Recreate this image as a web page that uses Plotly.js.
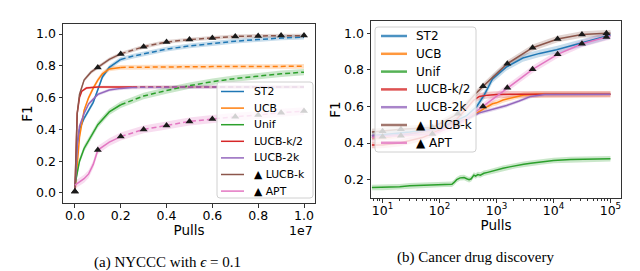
<!DOCTYPE html>
<html><head><meta charset="utf-8">
<script src="https://cdn.plot.ly/plotly-3.0.1.min.js"></script>
<style>html,body{margin:0;padding:0;background:#fff}#chart{width:640px;height:271px}</style>
</head><body><div id="chart"></div>
<script>
const seriesNames = ['ST2','UCB','Unif','LUCB-k/2','LUCB-2k','▲ LUCB-k','▲ APT'];
const colors = ['#1f77b4','#ff7f0e','#2ca02c','#d62728','#9467bd','#8c564b','#e377c2'];

// ---- Panel (a): NYCCC, x = pulls ----
const aST2_x = [0,1e5,2e5,4e5,6e5,8e5,1e6,1.2e6,1.5e6,2e6,2.5e6,3e6,4e6,5e6,6e6,7e6,8e6,9e6,1e7];
const aST2_y = [0.0,0.3,0.4,0.47,0.52,0.57,0.65,0.73,0.79,0.84,0.86,0.875,0.905,0.925,0.94,0.955,0.965,0.975,0.98];
const aUCB_x = [0,1e5,2e5,4e5,6e5,8e5,1e6,1.2e6,1.5e6,2e6,3e6,4e6,5e6,6e6,7e6,8e6,9e6,1e7];
const aUCB_y = [0.0,0.2,0.35,0.52,0.6,0.66,0.71,0.75,0.78,0.79,0.792,0.793,0.794,0.795,0.795,0.796,0.796,0.797];
const aUnif_x = [0,1e5,2e5,4e5,6e5,8e5,1e6,1.5e6,2e6,3e6,4e6,5e6,6e6,7e6,8e6,9e6,1e7];
const aUnif_y = [0.05,0.12,0.2,0.28,0.33,0.38,0.43,0.51,0.555,0.61,0.645,0.675,0.7,0.72,0.735,0.75,0.76];
const aLk2_x = [0,5e4,1e5,2e5,3e5,5e5,8e5,1e6,2e6,2.5e6,4e6,6e6,8e6,1e7];
const aLk2_y = [0.0,0.3,0.5,0.6,0.64,0.66,0.667,0.667,0.667,0.667,0.667,0.667,0.667,0.667];
const aL2k_x = [0,1e5,2e5,4e5,6e5,1e6,1.5e6,2e6,2.5e6,3e6,5e6,7e6,1e7];
const aL2k_y = [0.0,0.3,0.42,0.5,0.56,0.62,0.648,0.658,0.663,0.665,0.667,0.667,0.667];
const aLk_x = [0,5e4,1e5,2e5,4e5,7e5,1e6,1.5e6,2e6,3e6,4e6,5e6,6e6,7e6,8e6,9e6,1e7];
const aLk_y = [0.01,0.3,0.5,0.62,0.71,0.76,0.79,0.84,0.875,0.92,0.95,0.965,0.975,0.985,0.988,0.99,0.99];
const aAPT_x = [0,2e5,4e5,6e5,8e5,1e6,1.5e6,2e6,3e6,4e6,5e6,6e6,7e6,8e6,9e6,1e7];
const aAPT_y = [0.05,0.07,0.09,0.12,0.18,0.27,0.32,0.355,0.4,0.425,0.45,0.465,0.48,0.49,0.505,0.515];
const aMk_x = [0,1e6,2e6,3e6,4e6,5e6,6e6,7e6,8e6,9e6,1e7];
const aLkMk_y = [0.01,0.79,0.875,0.92,0.95,0.965,0.975,0.985,0.988,0.99,0.99];
const aAPTMk_y = [0.01,0.27,0.355,0.4,0.425,0.45,0.465,0.48,0.49,0.505,0.515];
const aBand = [0.015,0.015,0.02,0.008,0.01,0.012,0.025];
const aSplit = [2e6,2e6,2e6,2.5e6,2.5e6,2e6,2e6];
const aTickVals = [0,2e6,4e6,6e6,8e6,1e7];
const aTickText = ['0.0','0.2','0.4','0.6','0.8','1.0'];

// ---- Panel (b): Cancer drug discovery, x = pulls (log) ----
const bST2_x = [6.5,10,30,100,300,450,600,850,1480,2900,5700,11300,29000,60000,1e5];
const bST2_y = [0.44,0.445,0.46,0.48,0.55,0.6,0.66,0.75,0.815,0.865,0.89,0.91,0.943,0.97,0.99];
const bUCB_x = [6.5,10,30,100,300,500,700,850,1000,1300,1700,2200,3000,5000,1e5];
const bUCB_y = [0.43,0.43,0.45,0.48,0.53,0.575,0.6,0.615,0.62,0.635,0.645,0.655,0.663,0.667,0.667];
const bUnif_x = [6.5,10,15,20,30,50,80,120,165,180,200,230,270,300,330,360,400,430,470,520,600,700,800,1000,1300,1700,2200,3000,4000,6000,10000,20000,50000,1e5];
const bUnif_y = [0.158,0.158,0.16,0.162,0.167,0.17,0.172,0.175,0.175,0.185,0.2,0.21,0.212,0.205,0.2,0.205,0.225,0.22,0.228,0.225,0.235,0.24,0.245,0.255,0.262,0.27,0.278,0.285,0.29,0.297,0.305,0.31,0.312,0.315];
const bLk2_x = [6.5,10,20,50,100,200,300,400,500,700,1000,2000,1e5];
const bLk2_y = [0.39,0.39,0.4,0.43,0.47,0.53,0.59,0.635,0.655,0.662,0.665,0.667,0.667];
const bL2k_x = [6.5,10,30,100,300,500,1000,1500,2500,4000,7000,1e5];
const bL2k_y = [0.44,0.44,0.45,0.48,0.53,0.565,0.59,0.605,0.63,0.655,0.665,0.667];
const bLk_x = [6.5,10,21,75,210,400,580,1550,4300,11800,31600,85000,1e5];
const bLk_y = [0.46,0.465,0.475,0.485,0.56,0.66,0.71,0.834,0.921,0.969,0.993,1.0,1.0];
const bAPT_x = [6.5,10,21,75,210,580,1550,4300,11800,31600,85000,1e5];
const bAPT_y = [0.43,0.435,0.44,0.45,0.5,0.6,0.702,0.803,0.885,0.943,0.98,0.985];
const bMk_x = [10,21,75,210,580,1550,4300,11800,31600,85000];
const bLkMk_y = [0.465,0.475,0.485,0.56,0.71,0.834,0.921,0.969,0.993,1.0];
const bAPTMk_y = [0.435,0.44,0.45,0.5,0.6,0.702,0.803,0.885,0.943,0.98];
const bBand = [0.02,0.015,0.015,0.018,0.01,0.018,0.02];
const bTickVals = [10,100,1000,10000,100000];
const bTickText = ['10<sup>1</sup>','10<sup>2</sup>','10<sup>3</sup>','10<sup>4</sup>','10<sup>5</sup>'];

const aX = [aST2_x,aUCB_x,aUnif_x,aLk2_x,aL2k_x,aLk_x,aAPT_x];
const aY = [aST2_y,aUCB_y,aUnif_y,aLk2_y,aL2k_y,aLk_y,aAPT_y];
const bX = [bST2_x,bUCB_x,bUnif_x,bLk2_x,bL2k_x,bLk_x,bAPT_x];
const bY = [bST2_y,bUCB_y,bUnif_y,bLk2_y,bL2k_y,bLk_y,bAPT_y];

function rgba(hex,a){const n=parseInt(hex.slice(1),16);return `rgba(${n>>16},${(n>>8)&255},${n&255},${a})`;}

const bands=[], lines=[], marks=[];
function addPanel(X,Y,band,split,xa,ya){
  for(let i=0;i<X.length;i++){
    const xs=X[i], ys=Y[i], c=colors[i];
    const up=ys.map(v=>v+band[i]), lo=ys.map(v=>v-band[i]);
    bands.push({x:xs.concat(xs.slice().reverse()), y:up.concat(lo.slice().reverse()),
      type:'scatter', mode:'lines', fill:'toself', fillcolor:rgba(c,0.25), line:{width:0},
      hoverinfo:'skip', showlegend:false, xaxis:xa, yaxis:ya});
    const s = split ? split[i] : Infinity;
    const sx=[], sy=[], dx=[], dy=[];
    xs.forEach((v,k)=>{ if(v<=s){sx.push(v);sy.push(ys[k]);} if(v>=s){dx.push(v);dy.push(ys[k]);} });
    lines.push({x:sx,y:sy,type:'scatter',mode:'lines',name:seriesNames[i],line:{color:c,width:1.5},
      xaxis:xa,yaxis:ya,showlegend:false});
    if(dx.length>1) lines.push({x:dx,y:dy,type:'scatter',mode:'lines',line:{color:c,width:1.5,dash:'5px,3px'},
      xaxis:xa,yaxis:ya,showlegend:false});
  }
}
addPanel(aX,aY,aBand,aSplit,'x','y');
addPanel(bX,bY,bBand,null,'x2','y2');
function addMarks(mx,my,xa,ya){
  marks.push({x:mx,y:my,type:'scatter',mode:'markers',marker:{symbol:'triangle-up',size:7,color:'#1a1a1a'},
    xaxis:xa,yaxis:ya,showlegend:false,hoverinfo:'skip'});
}
addMarks(aMk_x,aLkMk_y,'x','y'); addMarks(aMk_x,aAPTMk_y,'x','y');
addMarks(bMk_x,bLkMk_y,'x2','y2'); addMarks(bMk_x,bAPTMk_y,'x2','y2');

const W=640,H=271;
const px=v=>v/W, py=v=>1-v/H;
const tf={family:'DejaVu Sans',size:12.5,color:'#000'};
const axBase={showline:true,mirror:true,linecolor:'#333',linewidth:1,ticks:'outside',ticklen:3.5,tickcolor:'#333',
  showgrid:false,zeroline:false,tickfont:tf};
const minorVals=[];
for(let e=0;e<6;e++) for(let m=2;m<10;m++) minorVals.push(m*Math.pow(10,e));

// hand-built legends (box, line samples, labels)
const shapes=[], annotations=[];
function roundRect(x0,y0,x1,y1,r){
  const X=px, Y=py;
  return `M ${X(x0+r)},${Y(y0)} L ${X(x1-r)},${Y(y0)} Q ${X(x1)},${Y(y0)} ${X(x1)},${Y(y0+r)} L ${X(x1)},${Y(y1-r)} Q ${X(x1)},${Y(y1)} ${X(x1-r)},${Y(y1)} L ${X(x0+r)},${Y(y1)} Q ${X(x0)},${Y(y1)} ${X(x0)},${Y(y1-r)} L ${X(x0)},${Y(y0+r)} Q ${X(x0)},${Y(y0)} ${X(x0+r)},${Y(y0)} Z`;
}
function addLegend(box,y0,dy,lx0,lx1,tx,fs,lw,op){
  shapes.push({type:'path',xref:'paper',yref:'paper',path:roundRect(box[0],box[1],box[2],box[3],3),
    fillcolor:'rgba(255,255,255,0.8)',line:{color:'#d0d0d0',width:1},layer:'above'});
  seriesNames.forEach((n,i)=>{
    const y=y0+dy*i;
    shapes.push({type:'line',xref:'paper',yref:'paper',x0:px(lx0),x1:px(lx1),y0:py(y),y1:py(y),
      line:{color:colors[i],width:lw},opacity:op,layer:'above'});
    annotations.push({text:n,xref:'paper',yref:'paper',x:px(tx),y:py(y),xanchor:'left',yanchor:'middle',
      showarrow:false,font:{family:'DejaVu Sans',size:fs,color:'#000'}});
  });
}
addLegend([217,82,313,198],91.5,16.6,221,244,252,10.8,1.5,1);
addLegend([375,27,476,152],36,17.8,381,407,414,12,2.5,0.8);

annotations.push(
  {text:'1e7',xref:'paper',yref:'paper',x:px(315),y:py(230),xanchor:'right',yanchor:'middle',showarrow:false,font:{family:'DejaVu Sans',size:12.5}},
  {text:'(a) NYCCC with <i>ϵ</i> = 0.1',xref:'paper',yref:'paper',x:px(167),y:py(262),xanchor:'center',yanchor:'middle',showarrow:false,font:{family:'Liberation Serif',size:15}},
  {text:'(b) Cancer drug discovery',xref:'paper',yref:'paper',x:px(476),y:py(257),xanchor:'center',yanchor:'middle',showarrow:false,font:{family:'Liberation Serif',size:15}}
);

const layout={
  width:W,height:H,margin:{l:0,r:0,t:0,b:0},paper_bgcolor:'#fff',plot_bgcolor:'#fff',
  font:{family:'DejaVu Sans',color:'#000'},showlegend:false,
  xaxis:Object.assign({},axBase,{domain:[px(63),px(315)],range:[-0.052e7,1.048e7],tickmode:'array',tickvals:aTickVals,ticktext:aTickText,
    ticklabelstandoff:-3,title:{text:'Pulls',font:{family:'DejaVu Sans',size:13.5},standoff:0},anchor:'y'}),
  yaxis:Object.assign({},axBase,{domain:[py(203),py(24)],range:[-0.063,1.063],tickvals:[0,0.2,0.4,0.6,0.8,1.0],tickformat:'.1f',
    title:{text:'F1',font:{family:'DejaVu Sans',size:13.5},standoff:0},anchor:'x'}),
  xaxis2:Object.assign({},axBase,{type:'log',domain:[px(371),px(621)],range:[0.797,5.185],tickmode:'array',tickvals:bTickVals,ticktext:bTickText,
    minor:{tickmode:'array',tickvals:minorVals,ticks:'outside',ticklen:2,tickcolor:'#333'},
    ticklabelstandoff:-3,title:{text:'Pulls',font:{family:'DejaVu Sans',size:13.5},standoff:0},anchor:'y2'}),
  yaxis2:Object.assign({},axBase,{domain:[py(198),py(21)],range:[0.1,1.067],tickvals:[0.2,0.4,0.6,0.8,1.0],tickformat:'.1f',
    title:{text:'F1',font:{family:'DejaVu Sans',size:13.5},standoff:0},anchor:'x2'}),
  shapes:shapes, annotations:annotations
};
Plotly.newPlot('chart',bands.concat(lines,marks),layout,{staticPlot:true,displayModeBar:false});
</script></body></html>
